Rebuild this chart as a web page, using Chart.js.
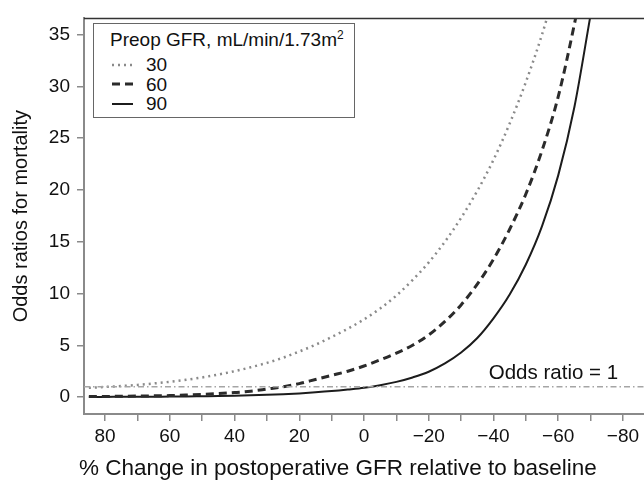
<!DOCTYPE html>
<html>
<head>
<meta charset="utf-8">
<script src="https://cdn.jsdelivr.net/npm/chart.js@4"></script>
<style>
  html, body { margin: 0; padding: 0; background: #fff; }
  #wrap { position: relative; width: 644px; height: 480px; overflow: hidden; }
  #legend {
    position: absolute; left: 93px; top: 23px;
    border: 1px solid #666; background: #fff;
    padding: 5px 10px 3px 16px;
    font: 19px "Liberation Sans", Arial, sans-serif; color: #111;
  }
  #legend .title { line-height: 22px; margin-bottom: 4px; white-space: nowrap; }
  #legend sup { font-size: 12px; line-height: 0; vertical-align: 7px; }
  #legend .row { height: 19.5px; display: flex; align-items: center; }
  #legend .lab { margin-left: 12px; line-height: 19.5px; }
  #xtitle {
    position: absolute; left: 79px; top: 455px; white-space: nowrap;
    font: 22.5px "Liberation Sans", Arial, sans-serif; line-height: 26px; color: #111;
  }
</style>
</head>
<body>
<div id="wrap">
  <canvas id="c" width="644" height="480"></canvas>
  <div id="legend"></div>
  <div id="xtitle"></div>
</div>
<script>
// ---- data ----
const pctChange = [85, 80, 75, 70, 65, 60, 55, 50, 45, 40, 35, 30, 25, 20, 15, 10, 5, 0,
                   -5, -10, -15, -20, -25, -30, -35, -40, -45, -50, -55, -60, -65, -70];
const or30 = [0.9, 0.98, 1.07, 1.18, 1.32, 1.48, 1.67, 1.9, 2.18, 2.5, 2.88, 3.3, 3.8, 4.4, 5.05, 5.8, 6.6, 7.5,
              8.55, 9.8, 11.3, 13.0, 15.0, 17.3, 19.9, 22.9, 26.4, 30.4, 35.0, 40.3, null, null];
const or60 = [0.05, 0.06, 0.08, 0.1, 0.12, 0.15, 0.2, 0.26, 0.34, 0.44, 0.57, 0.78, 1.0, 1.3, 1.7, 2.1, 2.5, 3.0,
              3.6, 4.25, 5.0, 6.0, 7.3, 8.9, 10.9, 13.3, 16.2, 19.6, 23.8, 29.0, 36.0, 44.0];
const or90 = [0.02, 0.02, 0.03, 0.03, 0.04, 0.05, 0.06, 0.08, 0.1, 0.13, 0.17, 0.22, 0.28, 0.36, 0.46, 0.58, 0.73, 0.9,
              1.15, 1.47, 1.9, 2.45, 3.25, 4.3, 5.7, 7.6, 9.9, 12.8, 16.5, 21.4, 28.0, 36.9];
const seriesLabels = ['30', '60', '90'];
const refX = [86.5, -86.5];
const refY = [1, 1];
const refLabel = 'Odds ratio = 1';
const refLabelX = -78.5;
const xTicks = [80, 70, 60, 50, 40, 30, 20, 10, 0, -10, -20, -30, -40, -50, -60, -70, -80];
const xLabelled = [80, 60, 40, 20, 0, -20, -40, -60, -80];
const yTicks = [0, 5, 10, 15, 20, 25, 30, 35];
const legendTitle = 'Preop GFR, mL/min/1.73m';
const xTitle = '% Change in postoperative GFR relative to baseline';
const yTitle = 'Odds ratios for mortality';

const FONT = '"Liberation Sans", Arial, sans-serif';
const toPts = (ys) => pctChange.map((x, i) => ({ x: x, y: ys[i] }));

const styles = [
  { color: '#8a8a8a', width: 2.5, dash: [2, 4] },
  { color: '#2b2b2b', width: 3, dash: [8, 5] },
  { color: '#1c1c1c', width: 2, dash: [] }
];
const seriesData = [or30, or60, or90];

const datasets = seriesData.map((ys, k) => ({
  label: seriesLabels[k],
  data: toPts(ys),
  borderColor: styles[k].color,
  borderWidth: styles[k].width,
  borderDash: styles[k].dash,
  pointRadius: 0,
  cubicInterpolationMode: 'monotone',
  fill: false,
  spanGaps: false
}));
datasets.unshift({
  label: 'ref',
  data: refX.map((x, i) => ({ x: x, y: refY[i] })),
  borderColor: '#a5a5a5',
  borderWidth: 1.5,
  borderDash: [6, 3, 1.5, 3],
  pointRadius: 0,
  fill: false
});

const annot = {
  id: 'annot',
  afterDatasetsDraw(chart) {
    const { ctx, chartArea, scales: { x, y } } = chart;
    ctx.save();
    ctx.strokeStyle = '#333';
    ctx.lineWidth = 1.5;
    ctx.beginPath();
    ctx.moveTo(chartArea.left, chartArea.top);
    ctx.lineTo(chartArea.right, chartArea.top);
    ctx.stroke();
    ctx.font = '20.5px ' + FONT;
    ctx.fillStyle = '#111';
    ctx.textAlign = 'right';
    ctx.textBaseline = 'alphabetic';
    ctx.fillText(refLabel, x.getPixelForValue(refLabelX), y.getPixelForValue(refY[0]) - 8);
    ctx.restore();
  }
};

new Chart(document.getElementById('c'), {
  type: 'line',
  data: { datasets: datasets },
  options: {
    responsive: false,
    animation: false,
    devicePixelRatio: 1,
    layout: { padding: { top: 15, right: 0, left: 0, bottom: 0 } },
    plugins: { legend: { display: false }, tooltip: { enabled: false } },
    scales: {
      x: {
        type: 'linear',
        reverse: true,
        min: -86.5,
        max: 86.5,
        afterBuildTicks: (s) => { s.ticks = xTicks.map(v => ({ value: v })); },
        afterFit: (s) => { s.height = 66; },
        ticks: {
          autoSkip: false,
          maxRotation: 0,
          padding: 4,
          color: '#111',
          font: { family: FONT, size: 19 },
          callback: (v) => xLabelled.includes(v) ? (v < 0 ? '\u2212' + Math.abs(v) : String(v)) : ''
        },
        grid: { drawOnChartArea: false, drawTicks: true, tickLength: 7, color: '#8a8a8a', lineWidth: 1.5 },
        border: { display: true, color: '#8a8a8a', width: 2 },
        title: { display: false }
      },
      y: {
        type: 'linear',
        min: -1.63,
        max: 36.55,
        afterBuildTicks: (s) => { s.ticks = yTicks.map(v => ({ value: v })); },
        afterFit: (s) => { s.width = 84; },
        ticks: {
          padding: 7,
          color: '#111',
          font: { family: FONT, size: 19 }
        },
        grid: { drawOnChartArea: false, drawTicks: true, tickLength: 7, color: '#8a8a8a', lineWidth: 1.5 },
        border: { display: true, color: '#8a8a8a', width: 2 },
        title: {
          display: true,
          text: yTitle,
          color: '#111',
          font: { family: FONT, size: 20 },
          padding: { top: 9, bottom: 0 }
        }
      }
    }
  },
  plugins: [annot]
});

document.getElementById('xtitle').textContent = xTitle;

// legend built from the series
const lg = document.getElementById('legend');
let html = '<div class="title">' + legendTitle + '<sup>2</sup></div>';
seriesLabels.forEach((lab, k) => {
  const st = styles[k];
  html += '<div class="row"><svg width="22" height="8" style="margin-left:2px"><line x1="0" y1="4" x2="21" y2="4" stroke="' +
    st.color + '" stroke-width="' + st.width + '"' + (st.dash.length ? ' stroke-dasharray="' + st.dash.join(',') + '"' : '') +
    '/></svg><span class="lab">' + lab + '</span></div>';
});
lg.innerHTML = html;
</script>
</body>
</html>
